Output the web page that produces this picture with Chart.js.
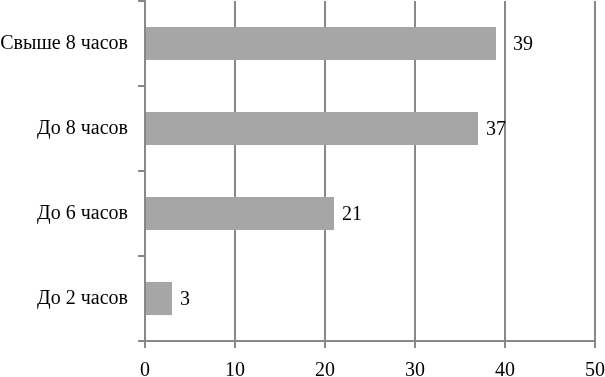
<!DOCTYPE html>
<html>
<head>
<meta charset="utf-8">
<script src="https://cdn.jsdelivr.net/npm/chart.js@4/dist/chart.umd.min.js"></script>
<style>
  html, body { margin: 0; padding: 0; background: #fff; }
  #wrap { width: 605px; height: 377px; }
</style>
</head>
<body>
<div id="wrap"><canvas id="chart"></canvas></div>
<script>
const categories = ['Свыше 8 часов', 'До 8 часов', 'До 6 часов', 'До 2 часов'];
const values = [39, 37, 21, 3];
const xTicks = [0, 10, 20, 30, 40, 50];

const FONT = 'Liberation Serif, Times New Roman, serif';
const GRID = '#888888';

// value labels to the right of each bar, pushed past a gridline if they'd sit on it
const valueLabels = {
  id: 'valueLabels',
  afterDatasetsDraw(chart) {
    const ctx = chart.ctx;
    const xs = chart.scales.x;
    const meta = chart.getDatasetMeta(0);
    ctx.save();
    ctx.font = '20px ' + FONT;
    ctx.fillStyle = '#000';
    ctx.textBaseline = 'middle';
    ctx.textAlign = 'left';
    meta.data.forEach((bar, i) => {
      let x = bar.x + 8;
      xTicks.forEach(t => {
        const gx = xs.getPixelForValue(t);
        if (gx >= x - 2 && gx <= x + 4) x = gx + 8;
      });
      ctx.fillText(String(values[i]), x, bar.y + 1);
    });
    ctx.restore();
  }
};

new Chart(document.getElementById('chart'), {
  type: 'bar',
  data: {
    labels: categories,
    datasets: [{
      data: values,
      backgroundColor: '#a6a6a6',
      borderWidth: 0,
      categoryPercentage: 1,
      barPercentage: 0.39
    }]
  },
  options: {
    indexAxis: 'y',
    responsive: true,
    maintainAspectRatio: false,
    animation: false,
    layout: { padding: { top: 1, right: 10, left: 0, bottom: 0 } },
    plugins: { legend: { display: false }, tooltip: { enabled: false } },
    scales: {
      x: {
        min: 0,
        max: 50,
        afterBuildTicks: ax => { ax.ticks = xTicks.map(v => ({ value: v })); },
        afterFit: ax => { ax.height = 36; ax.paddingLeft = 0; ax.paddingRight = 0; },
        grid: { color: GRID, lineWidth: 2, tickLength: 7, drawTicks: true },
        border: { color: GRID, width: 2 },
        ticks: { color: '#000', font: { family: FONT, size: 20 }, padding: 11 }
      },
      y: {
        afterFit: ax => { ax.width = 145; ax.paddingTop = 0; ax.paddingBottom = 0; },
        grid: { drawOnChartArea: false, color: GRID, lineWidth: 2, tickLength: 7, offset: true },
        border: { color: GRID, width: 2 },
        ticks: { color: '#000', font: { family: FONT, size: 20 }, padding: 10 }
      }
    }
  },
  plugins: [valueLabels]
});
</script>
</body>
</html>
